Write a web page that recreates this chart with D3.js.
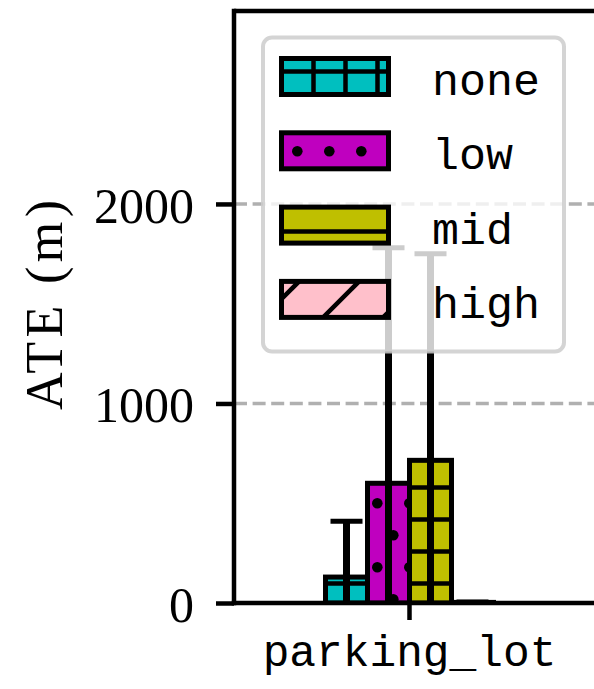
<!DOCTYPE html>
<html>
<head>
<meta charset="utf-8">
<script src="https://cdn.jsdelivr.net/npm/d3@7"></script>
<style>
  body { margin: 0; background: #fff; }
  svg { display: block; }
</style>
</head>
<body>
<script>
// data
var categories = ["parking_lot"];
var series = ["none", "low", "mid", "high"];
var means = [130, 600, 715, 3];
var errors = [280, 1180, 1035, 2];
var yTicks = [0, 1000, 2000];
var colors = ["#00bfbf", "#bf00bf", "#bfbf00", "#ffc0cb"];

var W = 594, H = 689;
var padL = 234, padT = 11, padB = 603, padR = 585;

var svg = d3.select("body").append("svg")
    .attr("width", W)
    .attr("height", H);

var defs = svg.append("defs");

// hatch patterns (aligned to page like matplotlib)
function pat(id, w, h, color) {
  var p = defs.append("pattern")
      .attr("id", id)
      .attr("patternUnits", "userSpaceOnUse")
      .attr("width", w).attr("height", h);
  p.append("rect").attr("width", w).attr("height", h).attr("fill", color);
  return p;
}
var p0 = pat("h0", 32, 32, colors[0]);
p0.append("line").attr("x1", 0).attr("x2", 32).attr("y1", 7.5).attr("y2", 7.5)
  .attr("stroke", "#000").attr("stroke-width", 4.5);
p0.append("line").attr("x1", 25.5).attr("x2", 25.5).attr("y1", 0).attr("y2", 32)
  .attr("stroke", "#000").attr("stroke-width", 4.5);

var p1 = pat("h1", 32, 64, colors[1]);
p1.append("circle").attr("cx", 25.3).attr("cy", 55.3).attr("r", 5.3).attr("fill", "#000");
p1.append("circle").attr("cx", 9.3).attr("cy", 23.3).attr("r", 5.3).attr("fill", "#000");

var p2 = pat("h2", 32, 32, colors[2]);
p2.append("line").attr("x1", 0).attr("x2", 32).attr("y1", 7.5).attr("y2", 7.5)
  .attr("stroke", "#000").attr("stroke-width", 4.5);

var p3 = pat("h3", 60, 60, colors[3]);
p3.append("line").attr("x1", -5).attr("y1", 45.5).attr("x2", 45.5).attr("y2", -5)
  .attr("stroke", "#000").attr("stroke-width", 4.5);
p3.append("line").attr("x1", 35.5).attr("y1", 65).attr("x2", 65).attr("y2", 35.5)
  .attr("stroke", "#000").attr("stroke-width", 4.5);

defs.append("clipPath").attr("id", "plot")
  .append("rect").attr("x", padL).attr("y", padT)
  .attr("width", W - padL).attr("height", padB - padT);

// scales
var y = d3.scaleLinear().domain([0, 2967]).range([padB, padT]);
var x = d3.scaleBand().domain(categories).range([padL, padR]);
var cx = x("parking_lot") + x.bandwidth() / 2;
var xs = d3.scaleBand().domain(series).range([cx - 84, cx + 84]);

// grid
svg.append("g").selectAll("line")
  .data(yTicks.filter(function(d) { return d > 0; }))
  .enter().append("line")
  .attr("x1", padL).attr("x2", W)
  .attr("y1", function(d) { return y(d); })
  .attr("y2", function(d) { return y(d); })
  .attr("stroke", "#b0b0b0")
  .attr("stroke-width", 3.5)
  .attr("stroke-dasharray", "13,5.6");

var plot = svg.append("g").attr("clip-path", "url(#plot)");

// bars
plot.selectAll("rect.bar")
  .data(series)
  .enter().append("rect")
  .attr("class", "bar")
  .attr("x", function(d) { return xs(d); })
  .attr("width", xs.bandwidth())
  .attr("y", function(d, i) { return y(means[i]); })
  .attr("height", function(d, i) { return y(0) - y(means[i]); })
  .attr("fill", function(d, i) { return "url(#h" + i + ")"; })
  .attr("stroke", "#000")
  .attr("stroke-width", 5);

// error bars
var eb = plot.selectAll("g.err")
  .data(series)
  .enter().append("g")
  .attr("class", "err");
eb.append("line")
  .attr("x1", function(d) { return xs(d) + xs.bandwidth() / 2; })
  .attr("x2", function(d) { return xs(d) + xs.bandwidth() / 2; })
  .attr("y1", function(d, i) { return y(means[i] - errors[i]); })
  .attr("y2", function(d, i) { return y(means[i] + errors[i]); })
  .attr("stroke", "#000").attr("stroke-width", 7);
eb.append("line")
  .attr("x1", function(d) { return xs(d) + xs.bandwidth() / 2 - 16; })
  .attr("x2", function(d) { return xs(d) + xs.bandwidth() / 2 + 16; })
  .attr("y1", function(d, i) { return y(means[i] + errors[i]); })
  .attr("y2", function(d, i) { return y(means[i] + errors[i]); })
  .attr("stroke", "#000").attr("stroke-width", 5);

// legend (no transforms so the hatch stays page-aligned)
var lg = svg.append("g");
lg.append("rect")
  .attr("x", 263).attr("y", 37.5)
  .attr("width", 301).attr("height", 314)
  .attr("rx", 9)
  .attr("fill", "rgba(255,255,255,0.8)")
  .attr("stroke", "rgba(204,204,204,0.85)")
  .attr("stroke-width", 4);
function rowY(i) { return 76.5 + i * 74.3; }
lg.selectAll("rect.key")
  .data(series)
  .enter().append("rect")
  .attr("class", "key")
  .attr("x", 281.5)
  .attr("y", function(d, i) { return rowY(i) - 18; })
  .attr("width", 107).attr("height", 36)
  .attr("fill", function(d, i) { return "url(#h" + i + ")"; })
  .attr("stroke", "#000").attr("stroke-width", 5);
lg.selectAll("text")
  .data(series)
  .enter().append("text")
  .attr("x", 432)
  .attr("y", function(d, i) { return rowY(i) + 18.5; })
  .attr("font-family", "Liberation Mono")
  .attr("font-size", 45)
  .attr("fill", "#000")
  .text(function(d) { return d; });

// spines
svg.append("line").attr("x1", padL).attr("x2", W).attr("y1", padT).attr("y2", padT)
  .attr("stroke", "#000").attr("stroke-width", 4.5);
svg.append("line").attr("x1", padL).attr("x2", padL).attr("y1", padT - 2.25).attr("y2", padB + 2.25)
  .attr("stroke", "#000").attr("stroke-width", 4.5);

// y axis
var yAxis = svg.append("g")
  .attr("transform", "translate(" + padL + ",0)")
  .call(d3.axisLeft(y).tickValues(yTicks).tickSize(18).tickPadding(22).tickFormat(d3.format("d")));
yAxis.select(".domain").remove();
yAxis.selectAll(".tick line").attr("stroke", "#000").attr("stroke-width", 4.5);
yAxis.selectAll(".tick text")
  .attr("font-family", "Liberation Serif")
  .attr("font-size", 50)
  .attr("fill", "#000")
  .attr("dy", "0.37em");

// x axis
var xAxis = svg.append("g")
  .attr("transform", "translate(0," + padB + ")")
  .call(d3.axisBottom(x).tickSize(17).tickPadding(14));
xAxis.select(".domain").remove();
xAxis.selectAll(".tick line").attr("stroke", "#000").attr("stroke-width", 4.5);
xAxis.selectAll(".tick text")
  .attr("font-family", "Liberation Mono")
  .attr("font-size", 44.5)
  .attr("fill", "#000");
svg.append("line").attr("x1", padL - 2.25).attr("x2", W).attr("y1", padB).attr("y2", padB)
  .attr("stroke", "#000").attr("stroke-width", 4.5);

// y label
svg.append("text")
  .attr("transform", "translate(62,305) rotate(-90)")
  .attr("text-anchor", "middle")
  .attr("font-family", "Liberation Serif")
  .attr("font-size", 52)
  .attr("textLength", 210)
  .attr("lengthAdjust", "spacing")
  .attr("fill", "#000")
  .text("ATE (m)");
</script>
</body>
</html>
